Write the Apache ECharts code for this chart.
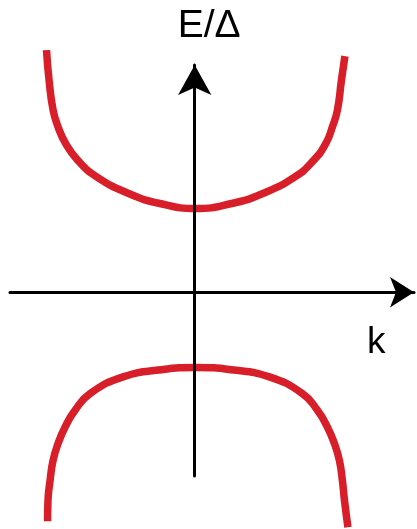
<!DOCTYPE html>
<html>
<head>
<meta charset="utf-8">
<script src="https://cdn.jsdelivr.net/npm/echarts@6/dist/echarts.min.js"></script>
<style>
  html, body { margin: 0; padding: 0; background: #ffffff; }
  #chart { width: 417px; height: 529px; }
</style>
</head>
<body>
<div id="chart"></div>
<script>
// Quasiparticle dispersion: upper (electron-like) and lower (hole-like) branches
const upperK = [-0.987, -0.97, -0.943, -0.91, -0.86, -0.78, -0.653, -0.44, -0.233, 0.007, 0.247, 0.453, 0.667, 0.793, 0.873, 0.917, 0.95, 0.977, 1.0];
const upperE = [2.898, 2.539, 2.180, 1.980, 1.781, 1.581, 1.381, 1.182, 1.062, 1.002, 1.062, 1.182, 1.381, 1.581, 1.781, 1.980, 2.180, 2.539, 2.826];

const lowerK = [-0.98, -0.977, -0.963, -0.943, -0.91, -0.863, -0.797, -0.697, -0.477, -0.223, 0.01, 0.243, 0.497, 0.717, 0.817, 0.883, 0.93, 0.963, 0.983, 0.997, 1.02];
const lowerE = [-2.743, -2.491, -2.251, -2.012, -1.812, -1.613, -1.413, -1.213, -1.014, -0.928, -0.902, -0.928, -1.014, -1.213, -1.413, -1.613, -1.812, -2.012, -2.251, -2.491, -2.814];

const axisNames = { x: 'k', y: 'E/\u0394' };

const curveColor = '#d81e28';
const inkColor = '#000000';
const fontFamily = '"Liberation Sans", Arial, Helvetica, sans-serif';

function zip(ks, es) {
  return ks.map((k, i) => [k, es[i]]);
}

function branch(name, ks, es) {
  return {
    name: name,
    type: 'line',
    data: zip(ks, es),
    smooth: 0.5,
    showSymbol: false,
    symbol: 'none',
    clip: false,
    silent: true,
    z: 2,
    lineStyle: { color: curveColor, width: 7.5, cap: 'butt', join: 'round' }
  };
}

function bareAxis(min, max, arrowSize) {
  return {
    type: 'value',
    min: min,
    max: max,
    z: 5,
    axisLine: {
      show: true,
      onZero: true,
      symbol: ['none', 'arrow'],
      symbolSize: arrowSize,
      lineStyle: { color: inkColor, width: 3 }
    },
    axisTick: { show: false },
    axisLabel: { show: false },
    splitLine: { show: false }
  };
}

const chart = echarts.init(document.getElementById('chart'), null, { renderer: 'canvas' });

chart.setOption({
  animation: false,
  backgroundColor: '#ffffff',
  grid: { left: 10, right: 3, top: 65, bottom: 53, containLabel: false },
  xAxis: bareAxis(-1.23, 1.46, [23, 24]),
  yAxis: bareAxis(-2.2, 2.72, [25, 30]),
  series: [
    branch('upper', upperK, upperE),
    branch('lower', lowerK, lowerE)
  ]
});

// Axis titles anchored in data space next to the arrow heads
const yTitleAt = chart.convertToPixel({ gridIndex: 0 }, [-0.113, 3.18]);
const xTitleAt = chart.convertToPixel({ gridIndex: 0 }, [1.147, -0.611]);

function titleText(text, at, size) {
  return {
    type: 'text',
    x: at[0],
    y: at[1],
    z: 10,
    silent: true,
    style: {
      text: text,
      fill: inkColor,
      fontSize: size,
      fontFamily: fontFamily,
      align: 'left',
      verticalAlign: 'middle',
      textAlign: 'left',
      textVerticalAlign: 'middle'
    }
  };
}

chart.setOption({
  graphic: [
    titleText(axisNames.y, yTitleAt, 39),
    titleText(axisNames.x, xTitleAt, 37)
  ]
});
</script>
</body>
</html>
